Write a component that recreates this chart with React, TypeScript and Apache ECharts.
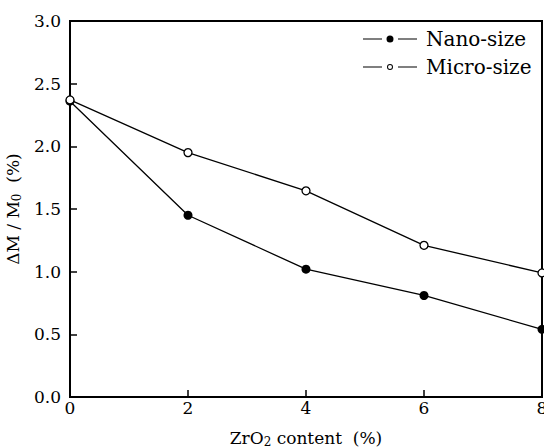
import React, { useEffect, useRef } from "react";
import * as echarts from "echarts";

const xValues = [0, 2, 4, 6, 8];
const nanoValues = [2.36, 1.45, 1.02, 0.81, 0.54];
const microValues = [2.37, 1.95, 1.645, 1.21, 0.99];
const seriesNames = ["Nano-size", "Micro-size"];

const FONT = "DejaVu Serif";

const LINES = "M0 3.05 L19 3.05 L19 3.95 L0 3.95 Z M35 3.05 L54 3.05 L54 3.95 L35 3.95 Z";
const DOT = "M23.5 3.5 A3.5 3.5 0 1 0 30.5 3.5 A3.5 3.5 0 1 0 23.5 3.5 Z";
const RING =
  "M24 3.5 A3 3 0 1 0 30 3.5 A3 3 0 1 0 24 3.5 Z M25 3.5 A2 2 0 1 1 29 3.5 A2 2 0 1 1 25 3.5 Z";
const DOT_ICON = "path://" + LINES + " " + DOT;
const RING_ICON = "path://" + LINES + " " + RING;

export default function App() {
  const ref = useRef<HTMLDivElement>(null);
  useEffect(() => {
    if (!ref.current) return;
    const chart = echarts.init(ref.current, undefined, { renderer: "svg" });
    const axisCommon = {
      axisLine: { show: true, lineStyle: { color: "#000", width: 2 } },
      axisTick: { show: true, inside: true, length: 7, lineStyle: { color: "#000", width: 1.5 } },
      splitLine: { show: false },
    };
    const richName = {
      a: { fontFamily: FONT, fontSize: 17, color: "#000" },
      s: { fontFamily: FONT, fontSize: 12, color: "#000", padding: [9, 0, 0, 0] },
    };
    chart.setOption({
      animation: false,
      backgroundColor: "#fff",
      textStyle: { fontFamily: FONT },
      grid: {
        left: 70,
        right: 2,
        top: 21,
        bottom: 51,
        show: true,
        borderColor: "#000",
        borderWidth: 2,
        containLabel: false,
        outerBoundsMode: "none",
      },
      legend: {
        orient: "vertical",
        left: 363,
        top: 29,
        padding: 0,
        itemWidth: 54,
        itemHeight: 7,
        itemGap: 8,
        textStyle: { color: "#000", fontFamily: FONT, fontSize: 20, padding: [0, 0, 0, 4] },
        data: [
          { name: seriesNames[0], icon: DOT_ICON, itemStyle: { color: "#000", borderWidth: 0 } },
          { name: seriesNames[1], icon: RING_ICON, itemStyle: { color: "#000", borderWidth: 0 } },
        ],
      },
      xAxis: {
        type: "value",
        min: 0,
        max: 8,
        interval: 2,
        ...axisCommon,
        axisLabel: { color: "#000", fontFamily: FONT, fontSize: 17, margin: 2 },
        name: "{a|ZrO}{s|2}{a| content  (%)}",
        nameLocation: "middle",
        nameGap: 30,
        nameTextStyle: { color: "#000", fontFamily: FONT, fontSize: 17, rich: richName },
      },
      yAxis: {
        type: "value",
        min: 0,
        max: 3,
        interval: 0.5,
        ...axisCommon,
        axisLabel: {
          color: "#000",
          fontFamily: FONT,
          fontSize: 17,
          margin: 9,
          formatter: (v: number) => v.toFixed(1),
        },
        name: "{a|ΔM / M}{s|0}{a|  (%)}",
        nameLocation: "middle",
        nameRotate: 90,
        nameGap: 36,
        nameTextStyle: { color: "#000", fontFamily: FONT, fontSize: 17, rich: richName },
      },
      series: [
        {
          name: seriesNames[0],
          type: "line",
          data: xValues.map((x, i) => [x, nanoValues[i]]),
          symbol: "circle",
          symbolSize: 9,
          lineStyle: { color: "#000", width: 1.3 },
          itemStyle: { color: "#000", borderColor: "#000", borderWidth: 0 },
          clip: false,
          z: 3,
        },
        {
          name: seriesNames[1],
          type: "line",
          data: xValues.map((x, i) => [x, microValues[i]]),
          symbol: "circle",
          symbolSize: 8,
          lineStyle: { color: "#000", width: 1.3 },
          itemStyle: { color: "#fff", borderColor: "#000", borderWidth: 1.3 },
          clip: false,
          z: 4,
        },
      ],
    });
    return () => chart.dispose();
  }, []);
  return (
    <div
      ref={ref}
      style={{ position: "fixed", left: 0, top: 0, width: 544, height: 448 }}
    />
  );
}
